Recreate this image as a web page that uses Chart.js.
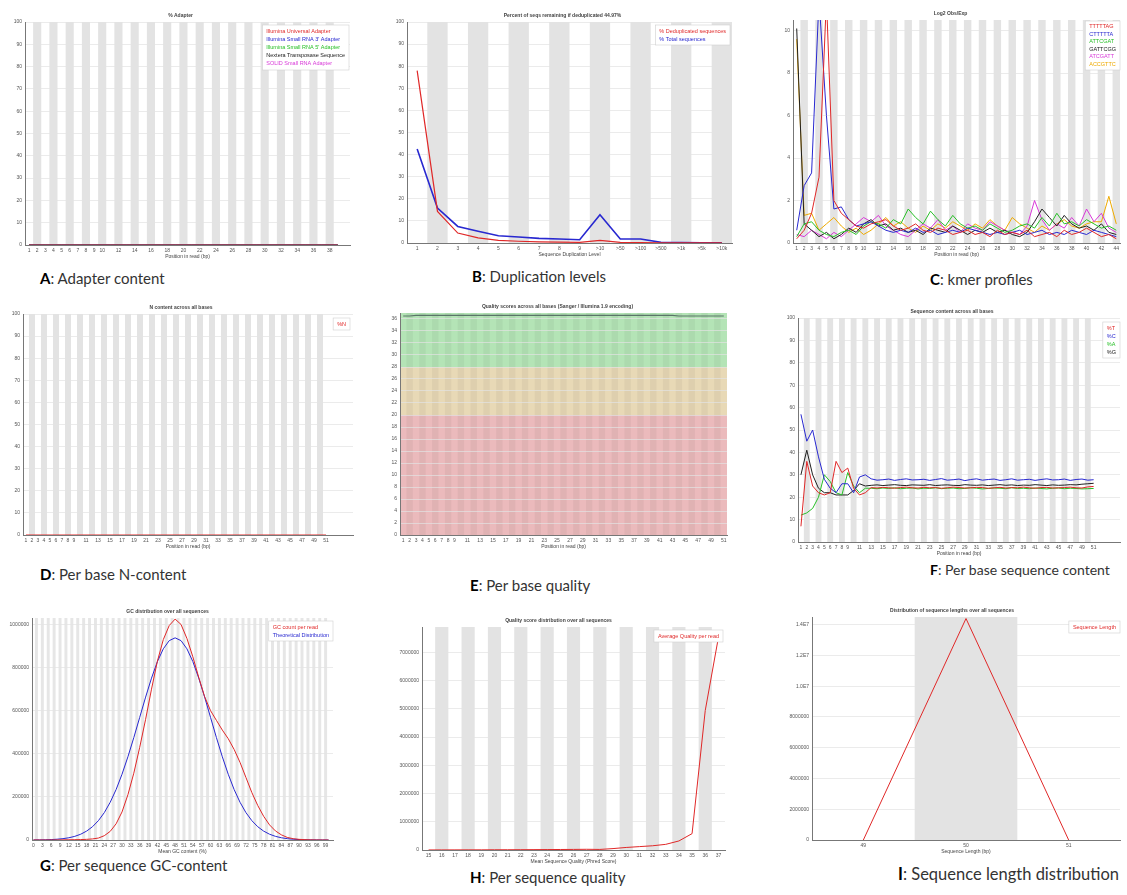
<!DOCTYPE html>
<html>
<head>
<meta charset="utf-8">
<script src="https://cdn.jsdelivr.net/npm/chart.js@4.4.1/dist/chart.umd.min.js"></script>
<style>
  body { margin: 0; width: 1127px; height: 895px; background: #fff; position: relative; overflow: hidden; }
  canvas { position: absolute; }
  .cap { position: absolute; font-family: Lato, sans-serif; font-size: 15px; color: #333; white-space: nowrap; line-height: 18px; }
  .cap b { color: #000; }
</style>
</head>
<body>
<div class="cap" style="left:40px;top:269px"><b>A</b>: Adapter content</div>
<div class="cap" style="left:472px;top:267px"><b>B</b>: Duplication levels</div>
<div class="cap" style="left:930px;top:270px"><b>C</b>: kmer profiles</div>
<div class="cap" style="left:40px;top:565px"><b>D</b>: Per base N-content</div>
<div class="cap" style="left:470px;top:576px"><b>E</b>: Per base quality</div>
<div class="cap" style="left:930px;top:561px;font-size:14px"><b>F</b>: Per base sequence content</div>
<div class="cap" style="left:40px;top:856px"><b>G</b>: Per sequence GC-content</div>
<div class="cap" style="left:470px;top:868px"><b>H</b>: Per sequence quality</div>
<div class="cap" style="left:898px;top:865px;font-size:16.5px"><b>I</b>: Sequence length distribution</div>
<script>
// ---- positions / tick labels ----
const adapterPos = [1,2,3,4,5,6,7,8,9,10,11,12,13,14,15,16,17,18,19,20,21,22,23,24,25,26,27,28,29,30,31,32,33,34,35,36,37,38,39];
const adapterTicks = [1,2,3,4,5,6,7,8,9,10,12,14,16,18,20,22,24,26,28,30,32,34,36,38];
const readPos = [1,2,3,4,5,6,7,8,9,10,11,12,13,14,15,16,17,18,19,20,21,22,23,24,25,26,27,28,29,30,31,32,33,34,35,36,37,38,39,40,41,42,43,44,45,46,47,48,49,50,51];
const readTicks = [1,2,3,4,5,6,7,8,9,11,13,15,17,19,21,23,25,27,29,31,33,35,37,39,41,43,45,47,49,51];
const kmerPos = [1,2,3,4,5,6,7,8,9,10,11,12,13,14,15,16,17,18,19,20,21,22,23,24,25,26,27,28,29,30,31,32,33,34,35,36,37,38,39,40,41,42,43,44];
const kmerTicks = [1,2,3,4,5,6,7,8,9,10,12,14,16,18,20,22,24,26,28,30,32,34,36,38,40,42,44];
const dupPos = [1,2,3,4,5,6,7,8,9,10,11,12,13,14,15,16];
const dupLabels = ['1','2','3','4','5','6','7','8','9','>10','>50','>100','>500','>1k','>5k','>10k'];
const gcPct = [0,2,4,6,8,10,12,14,16,18,20,22,24,26,28,30,32,34,36,38,40,42,44,46,48,50,52,54,56,58,60,62,64,66,68,70,72,74,76,78,80,82,84,86,88,90,92,94,96,98,100];
const gcTicks = [0,3,6,9,12,15,18,21,24,27,30,33,36,39,42,45,48,51,54,57,60,63,66,69,72,75,78,81,84,87,90,93,96,99];
const qualScore = [15,16,17,18,19,20,21,22,23,24,25,26,27,28,29,30,31,32,33,34,35,36,37];
const seqLen = [49,50,51];

const pctTicks = [0,10,20,30,40,50,60,70,80,90,100];
const kmerYTicks = [0,2,4,6,8,10];
const phredTicks = [0,2,4,6,8,10,12,14,16,18,20,22,24,26,28,30,32,34,36];
const gcYTicks = [0,200000,400000,600000,800000,1000000];
const seqQualYTicks = [0,1000000,2000000,3000000,4000000,5000000,6000000,7000000];
const lenYTicks = [0,2000000,4000000,6000000,8000000,10000000,12000000,14000000];

// ---- A: adapter content (%) ----
const illuminaUniversal = [0,0,0,0,0,0,0,0,0,0,0,0,0,0,0,0,0,0,0,0,0,0,0,0,0,0,0,0,0,0,0,0,0,0,0,0,0,0,0];
const illuminaSmall3 = [0,0,0,0,0,0,0,0,0,0,0,0,0,0,0,0,0,0,0,0,0,0,0,0,0,0,0,0,0,0,0,0,0,0,0,0,0,0,0];
const illuminaSmall5 = [0,0,0,0,0,0,0,0,0,0,0,0,0,0,0,0,0,0,0,0,0,0,0,0,0,0,0,0,0,0,0,0,0,0,0,0,0,0,0];
const nextera = [0,0,0,0,0,0,0,0,0,0,0,0,0,0,0,0,0,0,0,0,0,0,0,0,0,0,0,0,0,0,0,0,0,0,0,0,0,0,0];
const solidSmall = [0,0,0,0,0,0,0,0,0,0,0,0,0,0,0,0,0,0,0,0,0,0,0,0,0,0,0,0,0,0,0,0,0,0,0,0,0,0,0];

// ---- B: duplication levels (%) ----
const dedupPct = [78,14.3,4.5,2.3,1.2,0.8,0.5,0.4,0.3,1.2,0.3,0.2,0.1,0.05,0.05,0.05];
const totalPct = [42.5,15.8,7.5,5.3,3.3,2.7,2.1,1.8,1.5,12.8,1.8,1.8,0.3,0.2,0.1,0.1];

// ---- C: kmer Log2 Obs/Exp ----
const kRed = [0.2,0.6,1.4,3.1,11.5,2.0,1.4,1.1,0.8,0.7,0.9,1.0,1.1,0.8,0.6,0.7,0.9,0.6,0.5,0.7,0.6,0.4,0.5,0.6,0.4,0.5,0.3,0.6,0.4,0.5,0.4,0.6,0.3,0.4,0.5,0.3,0.6,0.4,0.5,0.7,0.5,0.3,0.4,0.2];
const kBlue = [0.6,2.7,3.3,11.5,6.0,1.6,1.7,1.1,0.8,0.9,1.0,0.8,0.6,0.5,0.6,0.5,0.7,0.5,0.6,0.4,0.5,0.6,0.5,0.7,0.6,0.5,0.4,0.5,0.4,0.5,0.6,0.4,0.5,0.6,0.4,0.5,0.4,0.6,0.5,0.4,0.6,0.5,0.4,0.3];
const kGreen = [0.3,0.9,1.0,0.6,0.4,0.3,0.5,0.6,0.4,0.8,1.0,0.9,0.7,1.1,0.9,1.6,1.2,0.9,1.5,1.1,0.8,1.3,0.9,0.7,0.8,0.6,0.9,0.7,0.5,0.6,0.8,0.9,0.7,1.2,0.8,1.4,0.9,1.0,0.8,1.1,0.9,0.7,0.8,0.6];
const kBlack = [10.1,0.9,0.6,0.3,0.5,0.2,0.4,0.7,0.5,0.9,1.1,0.8,0.9,0.6,0.7,0.5,0.6,0.4,0.7,0.6,0.5,0.8,0.6,0.4,0.6,0.5,0.7,0.5,0.6,0.4,0.3,0.5,1.0,1.6,1.2,0.8,1.3,0.9,0.7,0.8,0.6,0.9,0.5,0.4];
const kMagenta = [0.4,0.3,0.6,0.4,0.2,0.5,0.3,0.6,0.9,1.2,1.0,1.3,0.8,0.6,0.4,0.3,0.6,0.9,0.7,1.1,0.6,0.8,0.5,0.9,0.7,0.6,1.0,0.8,0.6,0.5,0.4,0.8,2.0,1.1,0.6,0.9,0.7,1.2,0.8,1.6,1.0,1.4,0.7,0.5];
const kOrange = [9.6,1.3,1.4,0.6,0.9,1.2,0.8,0.5,0.7,0.4,0.6,0.9,1.2,0.8,1.0,0.7,0.5,0.8,0.6,0.9,0.7,1.0,0.8,0.6,0.9,0.7,1.1,0.8,0.6,1.2,0.9,0.7,0.5,0.8,0.6,0.9,1.1,0.8,0.7,0.9,1.0,1.0,2.2,0.9];

// ---- D: N content (%) ----
const nPct = [0,0,0,0,0,0,0,0,0,0,0,0,0,0,0,0,0,0,0,0,0,0,0,0,0,0,0,0,0,0,0,0,0,0,0,0,0,0,0,0,0,0,0,0,0,0,0,0,0,0,0];

// ---- E: mean quality per base ----
const meanQual = [36.5,36.5,36.6,36.6,36.6,36.6,36.6,36.6,36.6,36.6,36.6,36.6,36.6,36.6,36.6,36.6,36.6,36.6,36.6,36.6,36.6,36.6,36.6,36.6,36.6,36.6,36.6,36.6,36.6,36.6,36.6,36.6,36.6,36.6,36.6,36.6,36.6,36.6,36.6,36.6,36.6,36.6,36.6,36.5,36.5,36.5,36.5,36.5,36.5,36.5,36.5];
const zoneGood = [28, 37];
const zoneOk = [20, 28];
const zoneBad = [0, 20];

// ---- F: base content (%) ----
const baseT = [7,36,25,22,21,22,36,31,33,24,21,22,24.3,24.1,24.4,24.2,24.0,24.3,24.5,24.2,24.1,24.4,24.2,24.3,24.0,24.2,24.5,24.3,24.1,24.2,24.4,24.3,24.0,24.2,24.4,24.1,24.3,24.2,24.5,24.2,24.0,24.3,24.4,24.1,24.2,24.3,24.5,24.2,24.1,24.6,24.8];
const baseC = [57,45,50,38,28,24,22,26,26,22,29,30,28.2,27.6,27.8,28.1,27.5,27.9,28.2,27.7,27.8,28.0,27.5,27.9,28.3,27.6,27.8,28.1,27.4,27.9,28.2,27.6,27.9,28.1,27.5,27.8,28.2,27.6,27.8,28.0,27.5,27.9,28.2,27.7,27.8,28.1,27.5,27.9,28.1,27.6,27.8];
const baseA = [12,13,15,20,30,27,22,21,31,25,22,24,24.0,23.8,24.1,23.9,24.2,23.8,24.0,24.1,23.7,24.0,23.9,24.2,23.8,24.0,24.1,23.8,23.9,24.2,24.0,23.7,23.9,24.1,24.0,23.8,24.2,23.9,24.0,23.8,24.1,23.9,23.7,24.0,24.1,23.8,24.0,23.9,23.7,23.8,23.9];
const baseG = [30,41,30,24,22,22,21,21,21,23,26,25,25.3,25.5,25.2,25.4,25.6,25.3,25.2,25.5,25.4,25.3,25.6,25.2,25.4,25.5,25.3,25.2,25.6,25.4,25.3,25.5,25.2,25.4,25.6,25.3,25.5,25.2,25.4,25.3,25.6,25.4,25.2,25.5,25.3,25.4,25.6,25.5,25.8,26.0,26.2];

// ---- G: GC distribution (reads) ----
const gcCount = [0,0,0,100,300,500,1000,1500,2000,3000,5000,9000,20000,40000,75000,130000,210000,310000,430000,560000,700000,830000,930000,995000,1025000,1000000,935000,850000,755000,665000,600000,555000,510000,470000,420000,360000,290000,220000,160000,110000,70000,42000,24000,12000,6000,3000,1500,600,200,50,0];
const gcTheory = [300,600,1100,2000,3600,6200,10400,16900,26800,41200,61600,89700,127000,175000,234000,305000,386000,475000,569000,663000,751000,828000,887000,925000,938000,925000,887000,828000,751000,663000,569000,475000,386000,305000,234000,175000,127000,89700,61600,41200,26800,16900,10400,6200,3600,2000,1100,600,300,150,70];

// ---- H: mean sequence quality (reads) ----
const qualReads = [2000,3000,4000,5000,6000,8000,9000,11000,13000,15000,18000,21000,25000,20000,50000,90000,120000,150000,200000,320000,580000,4940000,7530000];

// ---- I: sequence length (reads) ----
const lenReads = [0,14400000,0];

// ---- plugins ----
const bands = {
  id: 'bands',
  beforeDraw(chart, args, o) {
    if (!o || o.from === undefined) return;
    const { ctx, chartArea: a, scales: { x, y } } = chart;
    ctx.save();
    (o.zones || []).forEach(z => {
      const t = y.getPixelForValue(z.to), b = y.getPixelForValue(z.from);
      ctx.fillStyle = z.color;
      ctx.fillRect(a.left, t, a.right - a.left, b - t);
    });
    ctx.fillStyle = o.color;
    for (let c = o.from + 1; c <= o.to; c += 2) {
      const l = x.getPixelForValue(c - 0.5), r = x.getPixelForValue(c + 0.5);
      ctx.fillRect(l, a.top, r - l, a.bottom - a.top);
    }
    ctx.restore();
  }
};

const boxLegend = {
  id: 'boxLegend',
  afterDatasetsDraw(chart, args, o) {
    if (!o || !o.show) return;
    const { ctx, chartArea: a } = chart;
    const items = chart.data.datasets.filter(d => d.label);
    ctx.save();
    ctx.font = '5.5px "Liberation Sans"';
    const lh = o.lh || 8;
    const w = Math.max(...items.map(d => ctx.measureText(d.label).width)) + 8;
    const h = items.length * lh + 4;
    const x = a.right - w - (o.dx || 0), y = a.top + (o.dy || 3);
    ctx.fillStyle = '#fff';
    ctx.fillRect(x, y, w, h);
    ctx.strokeStyle = '#cfcfcf';
    ctx.lineWidth = 0.6;
    ctx.strokeRect(x, y, w, h);
    ctx.textBaseline = 'middle';
    items.forEach((d, i) => {
      ctx.fillStyle = d.borderColor;
      ctx.fillText(d.label, x + 4, y + 2 + lh * (i + 0.5));
    });
    ctx.restore();
  }
};

Chart.register(bands, boxLegend);
Chart.defaults.font.family = '"Liberation Sans", sans-serif';
Chart.defaults.font.size = 5;
Chart.defaults.color = '#555';

const RED = '#e02828', BLUE = '#2828d0', GREEN = '#28c028', BLACK = '#202020', MAGENTA = '#d838d8', ORANGE = '#eeaa00';
const BAND = '#e3e3e3';

function draw(s) {
  const left = s.L - s.yw, top = s.T - 12;
  const w = s.R - left + 4, h = s.B - top + 17;
  const cv = document.createElement('canvas');
  cv.width = w; cv.height = h;
  cv.style.left = left + 'px'; cv.style.top = top + 'px';
  cv.style.width = w + 'px'; cv.style.height = h + 'px';
  document.body.appendChild(cv);
  return new Chart(cv, {
    type: 'line',
    data: {
      datasets: s.series.map(([label, xs, ys, color, width]) => ({
        label, data: xs.map((x, i) => ({ x, y: ys[i] })),
        borderColor: color, borderWidth: width || 1, pointRadius: 0, fill: false, tension: 0
      }))
    },
    options: {
      responsive: false, animation: false,
      layout: { padding: { right: 4 } },
      plugins: {
        legend: { display: false }, tooltip: { enabled: false },
        title: { display: true, text: s.title, font: { size: 5 }, padding: { top: 3, bottom: 3 }, color: '#444' },
        bands: s.bands, boxLegend: s.legend
      },
      scales: {
        x: {
          type: 'linear', min: s.xMin, max: s.xMax,
          grid: { display: false, drawTicks: false }, border: { color: '#777' },
          afterFit: sc => { sc.height = 17; },
          afterBuildTicks: sc => { sc.ticks = s.xTicks.map(v => ({ value: v })); },
          ticks: { autoSkip: false, maxRotation: 0, padding: 3, callback: (v, i) => s.xText ? s.xText[i] : v },
          title: { display: true, text: s.xTitle, font: { size: 5 }, padding: { top: 1, bottom: 2 }, color: '#444' }
        },
        y: {
          type: 'linear', min: 0, max: s.yMax,
          grid: { color: '#e2e2e2', lineWidth: 0.7, drawTicks: false }, border: { color: '#777' },
          afterFit: sc => { sc.width = s.yw; },
          afterBuildTicks: sc => { sc.ticks = s.yTicks.map(v => ({ value: v })); },
          ticks: { padding: 3, callback: s.yFmt || (v => v) }
        }
      }
    }
  });
}

draw({
  L: 25, T: 22, R: 350, B: 245, yw: 14, xMin: 0.5, xMax: 40.5, yMax: 100,
  title: '% Adapter', xTitle: 'Position in read (bp)', xTicks: adapterTicks, yTicks: pctTicks,
  bands: { from: 1, to: 39, color: BAND }, legend: { show: true, dx: 1, dy: 3, lh: 8.2 },
  series: [
    ['Illumina Universal Adapter', adapterPos, illuminaUniversal, RED],
    ["Illumina Small RNA 3' Adapter", adapterPos, illuminaSmall3, BLUE],
    ["Illumina Small RNA 5' Adapter", adapterPos, illuminaSmall5, GREEN],
    ['Nextera Transposase Sequence', adapterPos, nextera, BLACK],
    ['SOLID Small RNA Adapter', adapterPos, solidSmall, MAGENTA]
  ]
});

draw({
  L: 407, T: 22, R: 732, B: 243, yw: 14, xMin: 0.5, xMax: 16.5, yMax: 100,
  title: 'Percent of seqs remaining if deduplicated 44.97%', xTitle: 'Sequence Duplication Level',
  xTicks: dupPos, xText: dupLabels, yTicks: pctTicks,
  bands: { from: 1, to: 16, color: BAND }, legend: { show: true, dx: 2, dy: 3, lh: 8 },
  series: [
    ['% Deduplicated sequences', dupPos, dedupPct, RED, 1.2],
    ['% Total sequences', dupPos, totalPct, BLUE, 1.6]
  ]
});

draw({
  L: 793, T: 20, R: 1120, B: 243, yw: 12, xMin: 0.5, xMax: 44.5, yMax: 10.5,
  title: 'Log2 Obs/Exp', xTitle: 'Position in read (bp)', xTicks: kmerTicks, yTicks: kmerYTicks,
  bands: { from: 1, to: 44, color: BAND }, legend: { show: true, dx: 0, dy: 1, lh: 7.5 },
  series: [
    ['TTTTTAG', kmerPos, kRed, RED],
    ['CTTTTTA', kmerPos, kBlue, BLUE],
    ['ATTCGAT', kmerPos, kGreen, GREEN],
    ['GATTCGG', kmerPos, kBlack, BLACK],
    ['ATCGATT', kmerPos, kMagenta, MAGENTA],
    ['ACCGTTC', kmerPos, kOrange, ORANGE]
  ]
});

draw({
  L: 23, T: 314, R: 353, B: 535, yw: 14, xMin: 0.5, xMax: 55.5, yMax: 100,
  title: 'N content across all bases', xTitle: 'Position in read (bp)', xTicks: readTicks, yTicks: pctTicks,
  bands: { from: 1, to: 51, color: BAND }, legend: { show: true, dx: 3, dy: 4, lh: 8 },
  series: [['%N', readPos, nPct, RED]]
});

draw({
  L: 400, T: 313, R: 727, B: 535, yw: 12, xMin: 0.5, xMax: 51.5, yMax: 37,
  title: 'Quality scores across all bases (Sanger / Illumina 1.9 encoding)', xTitle: 'Position in read (bp)',
  xTicks: readTicks, yTicks: phredTicks,
  bands: {
    from: 1, to: 51, color: 'rgba(0,0,0,0.045)',
    zones: [
      { from: zoneGood[0], to: zoneGood[1], color: '#b4e4b6' },
      { from: zoneOk[0], to: zoneOk[1], color: '#e8d9b6' },
      { from: zoneBad[0], to: zoneBad[1], color: '#ebbabc' }
    ]
  },
  legend: { show: false },
  series: [['', readPos, meanQual, '#5a7468', 1.2]]
});

draw({
  L: 798, T: 318, R: 1120, B: 542, yw: 14, xMin: 0.5, xMax: 55.5, yMax: 100,
  title: 'Sequence content across all bases', xTitle: 'Position in read (bp)', xTicks: readTicks, yTicks: pctTicks,
  bands: { from: 1, to: 51, color: BAND }, legend: { show: true, dx: 0, dy: 4, lh: 8 },
  series: [
    ['%T', readPos, baseT, RED],
    ['%C', readPos, baseC, BLUE],
    ['%A', readPos, baseA, GREEN],
    ['%G', readPos, baseG, BLACK]
  ]
});

draw({
  L: 32, T: 618, R: 333, B: 840, yw: 30, xMin: -0.5, xMax: 101.5, yMax: 1030000,
  title: 'GC distribution over all sequences', xTitle: 'Mean GC content (%)', xTicks: gcTicks, yTicks: gcYTicks,
  bands: { from: 0, to: 100, color: '#e6e6e6' }, legend: { show: true, dx: 0, dy: 3, lh: 8 },
  series: [
    ['GC count per read', gcPct, gcCount, RED],
    ['Theoretical Distribution', gcPct, gcTheory, BLUE]
  ]
});

draw({
  L: 422, T: 627, R: 725, B: 850, yw: 30, xMin: 14.5, xMax: 37.5, yMax: 7900000,
  title: 'Quality score distribution over all sequences', xTitle: 'Mean Sequence Quality (Phred Score)',
  xTicks: qualScore, yTicks: seqQualYTicks,
  bands: { from: 15, to: 37, color: BAND }, legend: { show: true, dx: 2, dy: 3, lh: 8 },
  series: [['Average Quality per read', qualScore, qualReads, RED]]
});

draw({
  L: 812, T: 617, R: 1120, B: 840, yw: 28, xMin: 48.5, xMax: 51.5, yMax: 14500000,
  title: 'Distribution of sequence lengths over all sequences', xTitle: 'Sequence Length (bp)',
  xTicks: seqLen, yTicks: lenYTicks, yFmt: v => v >= 10000000 ? (v / 10000000).toFixed(1) + 'E7' : v,
  bands: { from: 49, to: 51, color: BAND }, legend: { show: true, dx: 0, dy: 4, lh: 8 },
  series: [['Sequence Length', seqLen, lenReads, RED]]
});
</script>
</body>
</html>
